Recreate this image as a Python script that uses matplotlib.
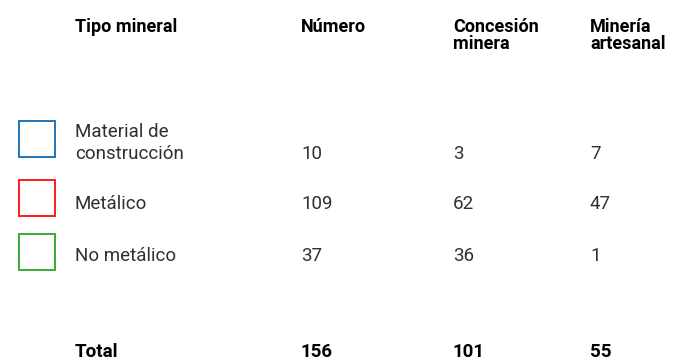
import matplotlib.pyplot as plt
from matplotlib.patches import Rectangle

# datos de la tabla
tipos = ["Material de\nconstrucción", "Metálico", "No metálico"]
numero = [10, 109, 37]
concesion = [3, 62, 36]
artesanal = [7, 47, 1]
colores = ["#1f77b4", "#ff1a1a", "#3aaa35"]
encabezados = ["Tipo mineral", "Número", "Concesión\nminera", "Minería\nartesanal"]

plt.rcParams["font.family"] = ["Roboto", "DejaVu Sans"]

fig = plt.figure(figsize=(6.91, 3.61), dpi=100)
ax = fig.add_axes([0, 0, 1, 1])
ax.set_xlim(0, 691)
ax.set_ylim(361, 0)
ax.axis("off")

col_x = [75, 301, 453, 590]
fila_y = [159, 209, 261]
caja_y = [121, 180, 234]
gris = "#303030"

# encabezados (el baseline de va="baseline" es el de la última línea)
for x, h in zip(col_x, encabezados):
    n = h.count("\n")
    ax.text(x, 32 + 17 * n, h, fontsize=13, fontweight="bold", va="baseline",
            ha="left", linespacing=0.95, color="black")

# filas
for i, t in enumerate(tipos):
    y = fila_y[i]
    ax.add_patch(Rectangle((19.5, caja_y[i]), 36, 36, fill=False,
                           edgecolor=colores[i], linewidth=1.4))
    ax.text(col_x[0], y, t, fontsize=13.5, fontweight="normal", va="baseline",
            ha="left", linespacing=1.3, color=gris)
    for x, v in zip(col_x[1:], [numero[i], concesion[i], artesanal[i]]):
        ax.text(x, y, str(v), fontsize=13.5, fontweight="normal",
                va="baseline", ha="left", color=gris)

# totales
totales = [sum(numero), sum(concesion), sum(artesanal)]
ax.text(col_x[0], 357, "Total", fontsize=13.5, fontweight="bold", va="baseline")
for x, v in zip(col_x[1:], totales):
    ax.text(x, 357, str(v), fontsize=13.5, fontweight="bold", va="baseline")

fig.savefig("out.png", dpi=100)
